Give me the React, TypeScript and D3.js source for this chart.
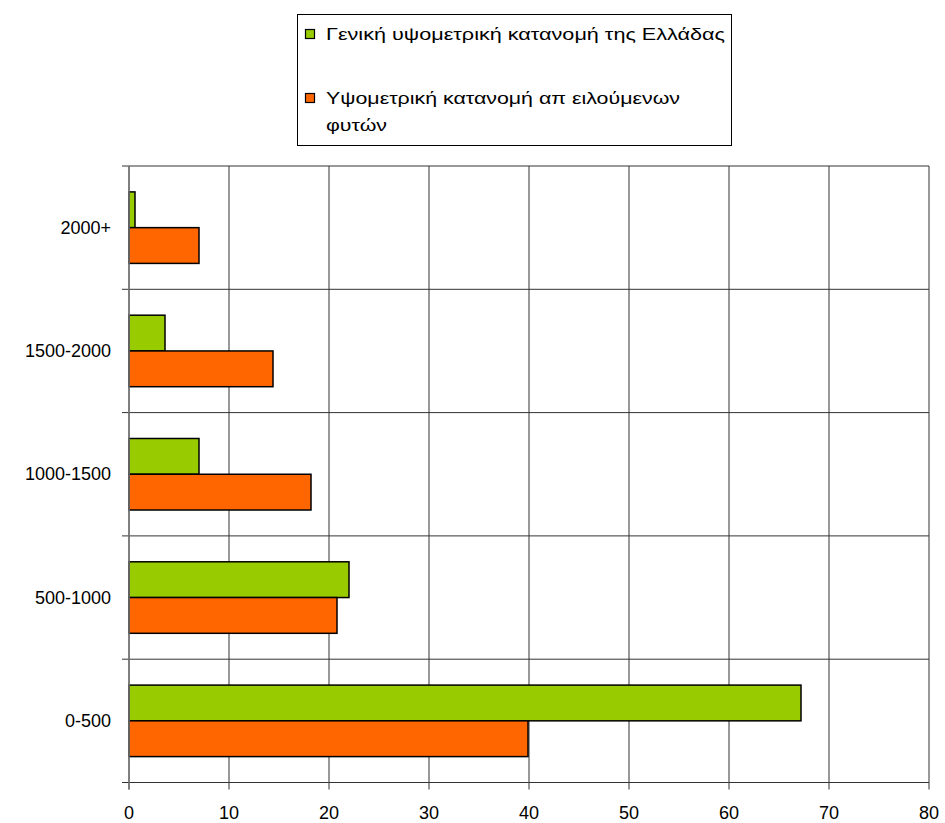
import React from "react";
import * as d3 from "d3";

// Altitude bands (bottom to top as drawn: 0-500 at the bottom)
const categories = ["2000+", "1500-2000", "1000-1500", "500-1000", "0-500"];
// Share (%) of Greece's total area per altitude band
const greeceValues = [0.6, 3.6, 7.0, 22.0, 67.2];
// Share (%) of threatened plants per altitude band
const threatenedValues = [7.0, 14.4, 18.2, 20.8, 39.9];
const xTicks = [0, 10, 20, 30, 40, 50, 60, 70, 80];
const seriesNames = [
  "Γενική υψομετρική κατανομή της Ελλάδας",
  "Υψομετρική κατανομή απ ειλούμενων",
];
const seriesNameCont = "φυτών";
const colors = ["#99CC00", "#FF6600"];

const W = 945;
const H = 823;
const left = 129;
const right = 929;
const top = 166;
const bottom = 782.5;
const font = "'Liberation Sans', Arial, sans-serif";

export default function App() {
  const x = d3.scaleLinear().domain([0, 80]).range([left, right]);
  const y = d3.scaleBand().domain(categories).range([top, bottom]).paddingInner(0).paddingOuter(0);
  const bw = y.bandwidth();
  const groupPad = 0.21 * bw;
  const barH = (bw - 2 * groupPad) / 2;
  const series = [greeceValues, threatenedValues];

  const boundaries = d3.range(categories.length + 1).map((i) => top + i * bw);

  return (
    <svg width={W} height={H} style={{ position: "absolute", left: 0, top: 0, background: "#fff" }} fontFamily={font}>
      {/* vertical grid */}
      {xTicks.map((t) => (
        <line key={"vg" + t} x1={x(t)} x2={x(t)} y1={top} y2={bottom + 7} stroke="#333" strokeWidth={1} />
      ))}
      {/* horizontal grid at band boundaries */}
      {boundaries.map((b, i) => (
        <line key={"hg" + i} x1={left - 7} x2={right} y1={b} y2={b} stroke="#333" strokeWidth={1} />
      ))}
      {/* bars */}
      {categories.map((c, ci) =>
        series.map((vals, si) => {
          const y0 = (y(c) as number) + groupPad + si * barH;
          return (
            <rect
              key={c + si}
              x={x(0)}
              y={y0}
              width={x(vals[ci]) - x(0)}
              height={barH}
              fill={colors[si]}
              stroke="#000"
              strokeWidth={1.5}
            />
          );
        })
      )}
      {/* axis line */}
      <line x1={left} x2={left} y1={top} y2={bottom + 7} stroke="#777" strokeWidth={1.5} />
      {/* x tick labels */}
      {xTicks.map((t) => (
        <text key={"xl" + t} x={x(t)} y={819} textAnchor="middle" fontSize={18} fill="#000">
          {t}
        </text>
      ))}
      {/* y category labels */}
      {categories.map((c) => (
        <text
          key={"yl" + c}
          x={111}
          y={(y(c) as number) + bw / 2}
          textAnchor="end"
          dominantBaseline="central"
          fontSize={18}
          fill="#000"
        >
          {c}
        </text>
      ))}
      {/* legend */}
      <rect x={297.5} y={14.5} width={434} height={131} fill="#fff" stroke="#000" strokeWidth={1} />
      <rect x={305.5} y={29.5} width={9} height={9} fill={colors[0]} stroke="#000" strokeWidth={1.2} />
      <text x={326} y={39.5} fontSize={16} fill="#000" textLength={399} lengthAdjust="spacingAndGlyphs">
        {seriesNames[0]}
      </text>
      <rect x={305.5} y={93.5} width={9} height={9} fill={colors[1]} stroke="#000" strokeWidth={1.2} />
      <text x={326} y={103.5} fontSize={16} fill="#000" textLength={354} lengthAdjust="spacingAndGlyphs">
        {seriesNames[1]}
      </text>
      <text x={326} y={131} fontSize={16} fill="#000" textLength={61} lengthAdjust="spacingAndGlyphs">
        {seriesNameCont}
      </text>
    </svg>
  );
}
